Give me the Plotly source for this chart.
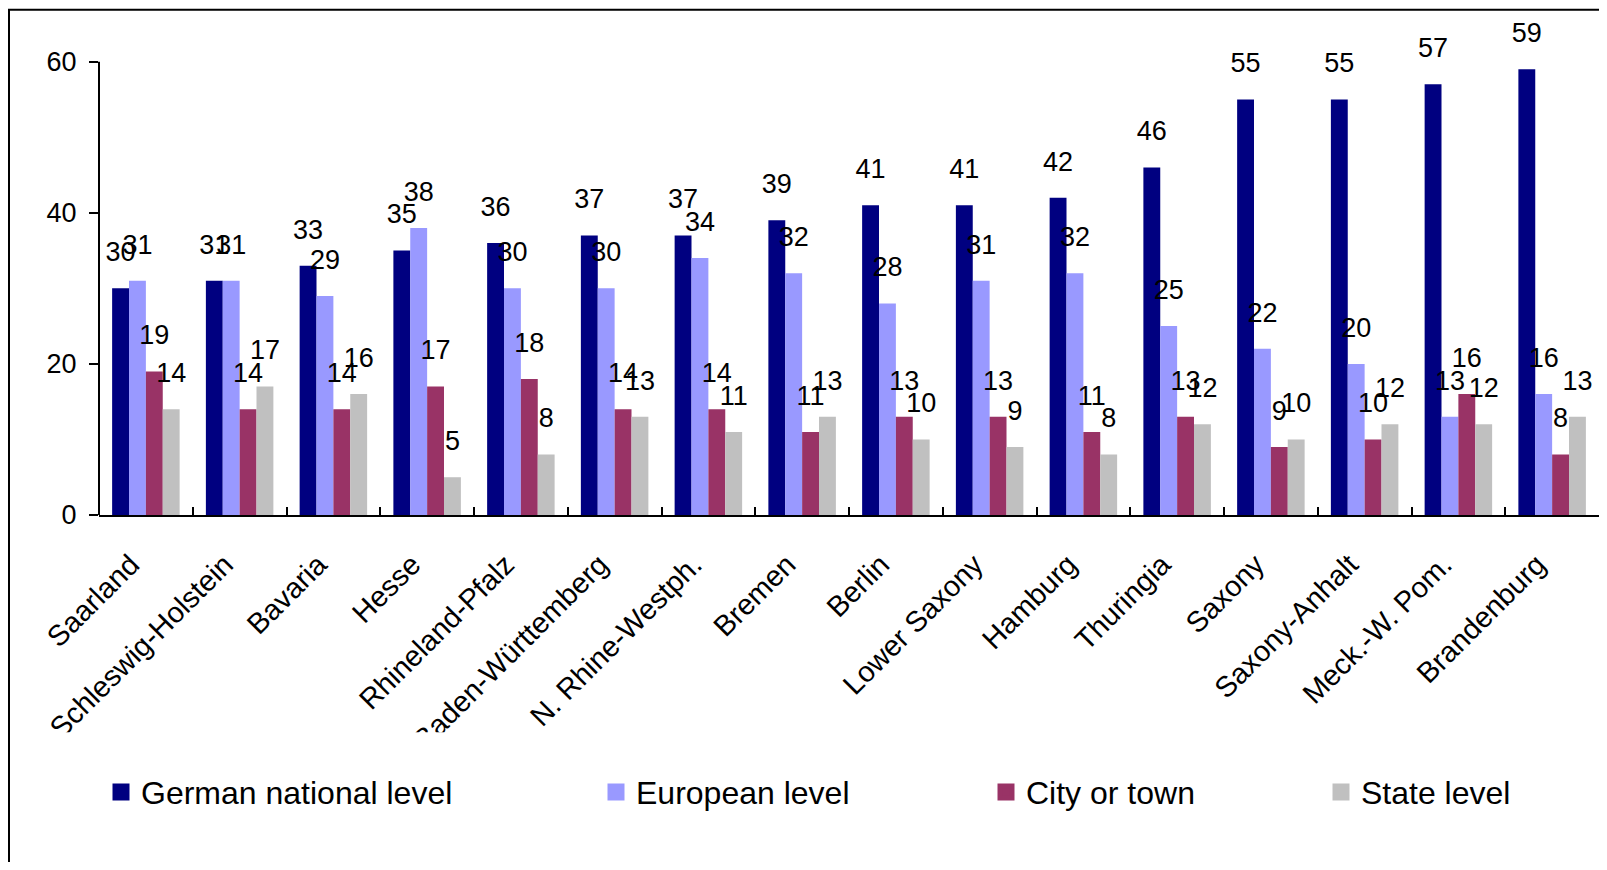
import plotly.graph_objects as go

states = ["Saarland", "Schleswig-Holstein", "Bavaria", "Hesse", "Rhineland-Pfalz",
          "Baden-Württemberg", "N. Rhine-Westph.", "Bremen", "Berlin", "Lower Saxony",
          "Hamburg", "Thuringia", "Saxony", "Saxony-Anhalt", "Meck.-W. Pom.", "Brandenburg"]
national = [30, 31, 33, 35, 36, 37, 37, 39, 41, 41, 42, 46, 55, 55, 57, 59]
european = [31, 31, 29, 38, 30, 30, 34, 32, 28, 31, 32, 25, 22, 20, 13, 16]
city = [19, 14, 14, 17, 18, 14, 14, 11, 13, 13, 11, 13, 9, 10, 16, 8]
state_level = [14, 17, 16, 5, 8, 13, 11, 13, 10, 9, 8, 12, 10, 12, 12, 13]

series_names = ["German national level", "European level", "City or town", "State level"]
series_values = [national, european, city, state_level]
colors = ["#000080", "#9999FF", "#993366", "#C0C0C0"]
y_ticks = [0, 20, 40, 60]
Y_TOP = 60

FONT = "Liberation Sans, Arial, sans-serif"
LABEL_LIFT = 2.4   # data units: gap between bar top and its value label
Y_HEADROOM = 3     # data units above the last tick so lifted labels stay in range

# ---- geometry (figure sits 8px inside the page because of the body margin)
PAGE_OFF = 8
FIG_W, FIG_H = 1591, 854
M_L, M_R, M_B = 91, 0, 347
PX_PER_UNIT = 453 / 60
plot_h = (Y_TOP + Y_HEADROOM) * PX_PER_UNIT
M_T = FIG_H - M_B - plot_h
plot_w = FIG_W - M_L - M_R


def px(page_x):
    return (page_x - PAGE_OFF - M_L) / plot_w


def py(page_y):
    return (FIG_H - M_B - (page_y - PAGE_OFF)) / plot_h


fig = go.Figure()
legend_ids = ["legend", "legend2", "legend3", "legend4"]
for i, (name, vals, col) in enumerate(zip(series_names, series_values, colors)):
    fig.add_trace(go.Bar(
        x=states, y=vals, name=name, marker=dict(color=col, line=dict(width=0)),
        offsetgroup=str(i), showlegend=False, hoverinfo="skip",
    ))
for i, (name, vals) in enumerate(zip(series_names, series_values)):
    fig.add_trace(go.Bar(
        x=states, y=vals, base=LABEL_LIFT, name=name + " labels",
        marker=dict(color="rgba(0,0,0,0)", line=dict(width=0)),
        offsetgroup=str(i), showlegend=False, hoverinfo="skip",
        text=vals, texttemplate="%{text}", textposition="outside",
        textfont=dict(family=FONT, size=27, color="black"),
        constraintext="none", cliponaxis=False,
    ))
# legend entries (no data of their own)
for i, (name, col) in enumerate(zip(series_names, colors)):
    fig.add_trace(go.Bar(
        x=[None], y=[None], name=name, offsetgroup=str(i), legend=legend_ids[i],
        marker=dict(color=col, line=dict(color=col, width=5)), hoverinfo="skip",
    ))

legend_x = [px(101), px(596), px(986), px(1321)]
layout_legends = {}
for lid, lx in zip(legend_ids, legend_x):
    layout_legends[lid] = dict(
        x=lx, y=py(792), xanchor="left", yanchor="middle", orientation="h",
        bgcolor="rgba(0,0,0,0)", borderwidth=0,
        font=dict(family=FONT, size=32, color="black"),
    )

fig.update_layout(
    width=FIG_W, height=FIG_H,
    barmode="group", bargap=0.28, bargroupgap=0,
    plot_bgcolor="white", paper_bgcolor="white",
    margin=dict(l=M_L, r=M_R, t=M_T, b=M_B, autoexpand=False),
    showlegend=True,
    font=dict(family=FONT, color="black"),
    **layout_legends,
)
fig.update_xaxes(
    type="category", showline=True, linecolor="black", linewidth=2,
    ticks="inside", ticklen=8, tickwidth=2, tickcolor="black", tickson="boundaries",
    tickangle=-45, tickfont=dict(family=FONT, size=29, color="black"),
    showgrid=False, zeroline=False, ticklabelstandoff=19, ticklabelshift=-15,
)
fig.update_yaxes(
    range=[0, Y_TOP + Y_HEADROOM], tickvals=y_ticks, showline=False,
    ticks="outside", ticklen=9, tickwidth=2, tickcolor="black",
    tickfont=dict(family=FONT, size=27, color="black"),
    showgrid=False, zeroline=False, ticklabelstandoff=7,
)

# value axis line (stops at the last tick, as in the original)
fig.add_shape(type="line", xref="paper", yref="y", x0=0, x1=0, y0=0, y1=Y_TOP,
              line=dict(color="black", width=2), layer="above")
# outer chart frame
fig.add_shape(type="rect", xref="paper", yref="paper", x0=px(9), x1=px(1625),
              y0=py(885), y1=py(10), line=dict(color="black", width=2),
              fillcolor="rgba(0,0,0,0)", layer="below")
# the original clips the rotated category labels at this height
fig.add_shape(type="rect", xref="paper", yref="paper", x0=px(11), x1=px(1605),
              y0=py(776), y1=py(732), line=dict(width=0), fillcolor="white", layer="above")

fig.write_html("out.html")
